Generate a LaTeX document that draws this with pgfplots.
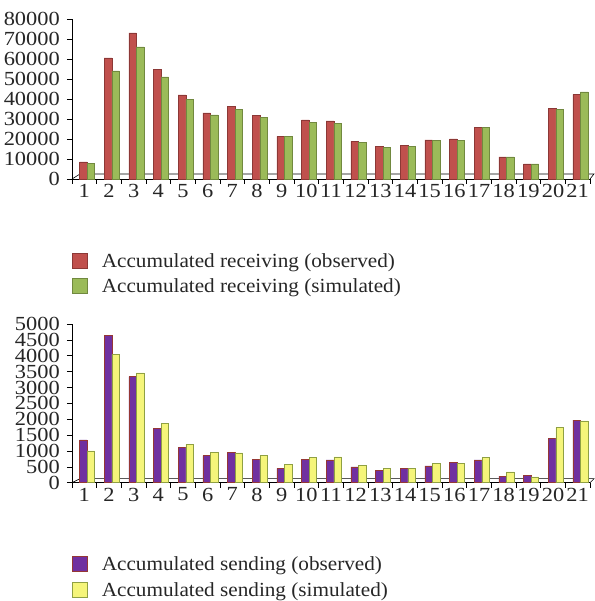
\documentclass[border=0pt]{standalone}
\usepackage{pgfplots}
\pgfplotsset{compat=1.18}
\usepackage{fontspec}
\setmainfont{Liberation Serif}[FakeStretch=1.06]
\newfontfamily\tickfont{Liberation Serif}[FakeStretch=1.12]

\definecolor{obsR}{HTML}{C0504D}
\definecolor{obsRd}{HTML}{8C3836}
\definecolor{simG}{HTML}{9BBB59}
\definecolor{simGd}{HTML}{71893F}
\definecolor{obsP}{HTML}{7030A0}
\definecolor{obsPd}{HTML}{953735}
\definecolor{simY}{HTML}{F5F57A}
\definecolor{simYd}{HTML}{8FA043}

% accumulated receiving
\pgfplotstableread{
x obs sim
1 8600 7700
2 60500 54000
3 73000 66000
4 54800 51000
5 42000 39800
6 33000 32000
7 36300 34800
8 31800 30700
9 21300 21200
10 29500 28300
11 29000 27900
12 18800 18400
13 16200 15800
14 16800 16200
15 19500 19300
16 20000 19400
17 25800 25800
18 11000 11000
19 7500 7600
20 35200 34800
21 42300 43600
}\recv

% accumulated sending
\pgfplotstableread{
x obs sim
1 1350 1000
2 4650 4040
3 3340 3460
4 1700 1860
5 1110 1210
6 850 950
7 960 940
8 730 860
9 450 570
10 740 800
11 720 810
12 500 550
13 390 440
14 440 440
15 530 600
16 650 600
17 720 790
18 210 340
19 220 180
20 1400 1740
21 1970 1950
}\send

\pgfplotsset{
  chart/.style={
    scale only axis,
    clip=false,
    width=518pt,
    xmin=0.5, xmax=21.5,
    ymin=0,
    axis lines*=left,
    axis line style={black, line width=0.6pt},
    xtick={1,...,21},
    major x tick style={draw=none},
    minor xtick={0.5,1.5,...,21.5},
    minor tick length=5pt,
    xtick align=outside,
    ytick align=outside,
    major tick length=5pt,
    tick style={black, line width=0.6pt},
    /pgf/number format/assume math mode=true,
    /pgf/number format/set thousands separator={},
    scaled y ticks=false,
    ticklabel style={font=\tickfont\fontsize{20}{22}\selectfont, text=black!85, inner sep=1pt},
    xticklabel style={yshift=1pt},
    yticklabel style={xshift=-6pt},
    ybar, bar width=7.6pt,
    legend style={draw=none, fill=none, inner sep=0pt, anchor=north west,
      font=\fontsize{20}{22}\selectfont, text=black!85,
      cells={anchor=west}, row sep=6pt, column sep=12pt},
    legend image code/.code={\draw[##1] (0pt,-7pt) rectangle (15pt,8pt);},
  },
  floor/.style={sharp plot, no marks, black, line width=0.6pt, forget plot},
}

\begin{document}
\begin{tikzpicture}[x=1pt,y=1pt]
\useasboundingbox (0,0) rectangle (594,601);

% receiving
\begin{axis}[chart, at={(72pt,422pt)}, anchor=south west, height=160pt,
  ymax=80000, ytick={0,10000,...,80000},
  legend style={at={(0,-0.45)}}]
  \addplot[floor] coordinates {(0.5,0) (0.824,2500) (21.662,2500) (21.5,0)};
  \addplot[fill=obsR, draw=obsRd, line width=0.5pt, bar shift=-1pt, forget plot] table[x=x,y=obs] {\recv};
  \addplot[fill=simG, draw=simGd, line width=0.5pt, bar shift=6.6pt, forget plot] table[x=x,y=sim] {\recv};
  \addlegendimage{fill=obsR, draw=obsRd, line width=0.6pt}
  \addlegendentry{Accumulated receiving (observed)}
  \addlegendimage{fill=simG, draw=simGd, line width=0.6pt}
  \addlegendentry{Accumulated receiving (simulated)}
\end{axis}

% sending
\begin{axis}[chart, at={(72pt,118.3pt)}, anchor=south west, height=158.7pt,
  ymax=5000, ytick={0,500,...,5000},
  legend style={at={(0,-0.455)}}]
  \addplot[floor] coordinates {(0.5,0) (0.824,126) (21.662,126) (21.5,0)};
  \addplot[fill=obsP, draw=obsPd, line width=0.5pt, bar shift=-1pt, forget plot] table[x=x,y=obs] {\send};
  \addplot[fill=simY, draw=simYd, line width=0.5pt, bar shift=6.6pt, forget plot] table[x=x,y=sim] {\send};
  \addlegendimage{fill=obsP, draw=obsPd, line width=0.6pt}
  \addlegendentry{Accumulated sending (observed)}
  \addlegendimage{fill=simY, draw=simYd, line width=0.6pt}
  \addlegendentry{Accumulated sending (simulated)}
\end{axis}
\end{tikzpicture}
\end{document}
